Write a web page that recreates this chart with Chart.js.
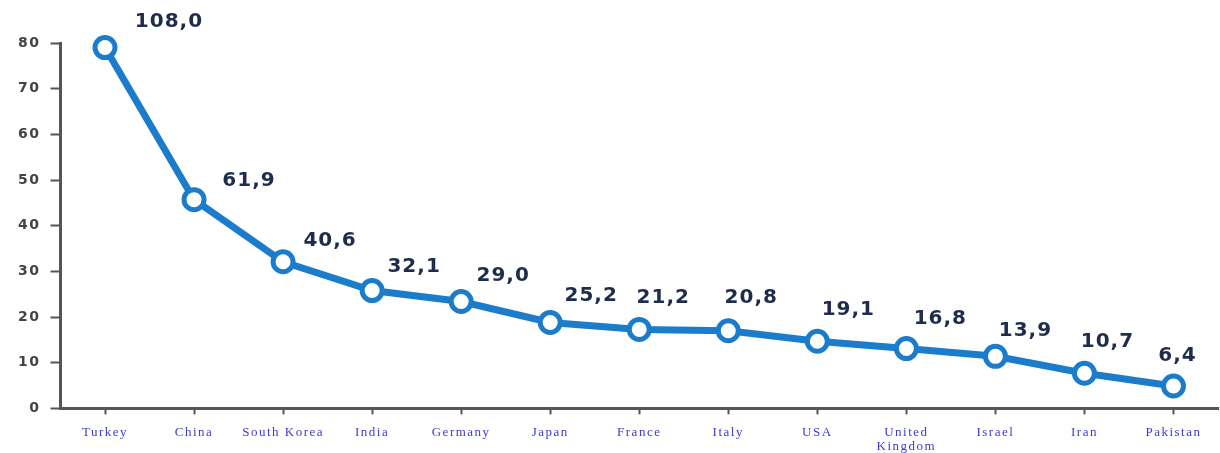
<!DOCTYPE html>
<html>
<head>
<meta charset="utf-8">
<script src="https://cdn.jsdelivr.net/npm/chart.js@4/dist/chart.umd.min.js"></script>
<style>
  html, body { margin: 0; padding: 0; background: #fff; overflow: hidden; }
  canvas { display: block; }
</style>
</head>
<body>
<canvas id="chart" width="1220" height="453"></canvas>
<script>
const countries = ["Turkey", "China", "South Korea", "India", "Germany", "Japan", "France",
  "Italy", "USA", ["United", "Kingdom"], "Israel", "Iran", "Pakistan"]
const plotted = [79, 45.7, 32.1, 25.8, 23.4, 18.8, 17.3, 17.0, 14.7, 13.1, 11.4, 7.7, 4.9]
const valueLabels = ["108,0", "61,9", "40,6", "32,1", "29,0", "25,2", "21,2",
  "20,8", "19,1", "16,8", "13,9", "10,7", "6,4"]
const yTicks = [0, 10, 20, 30, 40, 50, 60, 70, 80]

// where each value label sits relative to its point (dx, dy)
const labelShift = [[64, -26], [55, -19], [47, -21], [42, -24], [42, -26], [41, -27], [24, -32],
  [23, -33], [31, -31], [34, -30], [30, -26], [23, -31], [4, -30]]

const blue = "#1b7ccc"

// the source picture is stretched sideways, so widen the axis text a bit
const wideText = {
  id: "wideText",
  beforeDraw(chart) {
    chart.ctx.letterSpacing = "1.5px"
  },
  afterDraw(chart) {
    chart.ctx.letterSpacing = "0px"
  }
}

const valueLabelPlugin = {
  id: "valueLabels",
  afterDatasetsDraw(chart) {
    const ctx = chart.ctx
    const meta = chart.getDatasetMeta(0)
    ctx.save()
    ctx.font = "bold 20px 'DejaVu Sans'"
    ctx.letterSpacing = "1px"
    ctx.fillStyle = "#1f2d4d"
    ctx.textAlign = "center"
    ctx.textBaseline = "middle"
    meta.data.forEach(function(pt, i) {
      ctx.fillText(valueLabels[i], pt.x + labelShift[i][0], pt.y + labelShift[i][1])
    })
    ctx.restore()
  }
}

new Chart(document.getElementById("chart"), {
  type: "line",
  data: {
    labels: countries,
    datasets: [
      {
        data: plotted,
        borderColor: blue,
        borderWidth: 7,
        pointBackgroundColor: "#fff",
        pointBorderColor: blue,
        pointBorderWidth: 5,
        pointRadius: 10,
        tension: 0,
        clip: false
      }
    ]
  },
  options: {
    responsive: false,
    animation: false,
    layout: {
      autoPadding: false,
      padding: { top: 43, right: 2, left: 11, bottom: -12 }
    },
    plugins: {
      legend: { display: false },
      tooltip: { enabled: false }
    },
    scales: {
      x: {
        offset: true,
        grid: {
          display: true,
          drawOnChartArea: false,
          drawTicks: true,
          tickLength: 6,
          tickWidth: 2,
          tickColor: "#555"
        },
        border: { color: "#555", width: 3 },
        ticks: {
          color: "#3b3bd6",
          font: { family: "'Liberation Serif'", size: 13, lineHeight: 1.1 },
          maxRotation: 0,
          autoSkip: false,
          padding: 11
        }
      },
      y: {
        min: 0,
        max: 80,
        afterBuildTicks(axis) {
          axis.ticks = yTicks.map(v => ({ value: v }))
        },
        grid: {
          drawOnChartArea: false,
          tickLength: 10,
          tickWidth: 2,
          tickColor: "#555"
        },
        border: { color: "#555", width: 3 },
        ticks: {
          color: "#444",
          font: { family: "'DejaVu Sans'", size: 14, weight: "bold" },
          padding: 10
        }
      }
    }
  },
  plugins: [wideText, valueLabelPlugin]
})
</script>
</body>
</html>
